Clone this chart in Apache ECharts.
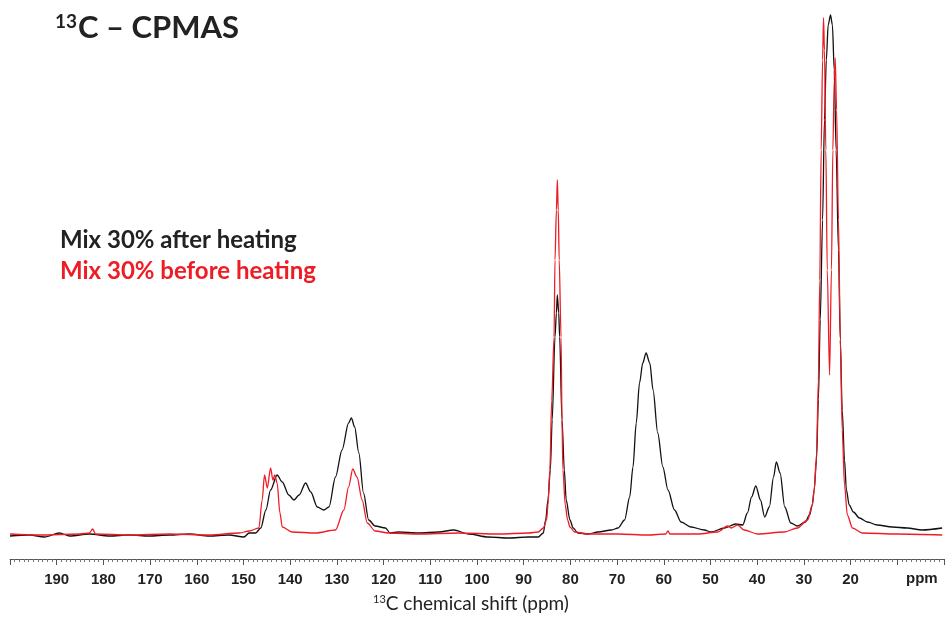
<!DOCTYPE html>
<html>
<head>
<meta charset="utf-8">
<script src="https://cdn.jsdelivr.net/npm/echarts@6/dist/echarts.min.js"></script>
<style>
  html, body { margin: 0; padding: 0; background: #fff; }
  #chart { width: 947px; height: 617px; }
</style>
</head>
<body>
<div id="chart"></div>
<script>
// chemical shift (ppm) and intensity (a.u.)
const afterPpm = [200.0, 195.8, 192.6, 189.4, 187.2, 183.0, 178.7, 174.4, 170.2, 165.9, 161.6, 157.3, 153.1, 149.9,
  148.8, 147.4, 146.3, 145.2, 144.2, 142.8, 141.7, 140.3, 139.2, 138.1, 136.7, 135.6, 134.2, 132.8, 131.7, 130.3,
  128.9, 127.5, 126.9, 126.2, 125.3, 124.3, 123.2, 121.8, 119.6, 118.6, 116.8, 112.5, 108.2, 105.0, 101.8, 97.6,
  93.3, 89.0, 86.9, 85.8, 85.3, 84.8, 84.3, 83.9, 83.3, 83.0, 82.8, 82.5, 82.3, 81.8, 81.3, 80.9, 80.1, 79.4, 78.4,
  76.2, 74.1, 71.2, 69.8, 68.4, 67.3, 66.6, 65.9, 65.2, 64.5, 63.8, 63.0, 62.3, 61.3, 60.2, 59.1, 57.7, 56.3, 54.2,
  51.3, 49.9, 47.0, 44.6, 43.1, 42.1, 41.2, 40.3, 39.3, 38.4, 37.4, 36.5, 35.9, 35.1, 34.1, 32.8, 31.4, 29.7, 28.8,
  28.2, 27.8, 27.3, 26.9, 26.5, 26.0, 25.6, 25.2, 24.8, 24.3, 23.9, 23.5, 23.1, 22.6, 22.2, 21.8, 21.3, 20.9, 20.3,
  19.4, 18.1, 16.4, 14.3, 11.1, 7.9, 4.7, 0.4];
const afterInt = [-1, 0, -2, 2, -1, 1, -1, 0, -1, 0, 1, -1, 0, -2,
  2, 2, 7, 25, 45, 60, 53, 40, 35, 40, 52, 43, 28, 25, 28, 58,
  85, 112, 117, 108, 82, 42, 15, 9, 7, 2, 3, 2, 3, 5, 1, -2,
  -3, -2, -2, 2, 15, 35, 65, 115, 198, 222, 240, 222, 198, 115, 65, 35, 15, 7, 2,
  1, 3, 5, 7, 15, 38, 68, 112, 152, 172, 182, 172, 145, 102, 68, 45, 25, 13, 8,
  5, 3, 7, 11, 10, 22, 38, 49, 35, 18, 28, 58, 73, 62, 28, 12, 9, 13, 20,
  30, 45, 75, 135, 215, 315, 415, 475, 510, 520, 510, 465, 385, 285, 195, 125, 75, 45, 30,
  23, 17, 13, 10, 8, 7, 5, 7];

const beforePpm = [200.0, 193.6, 185.1, 183.0, 182.3, 181.7, 174.4, 165.9, 157.3, 150.9, 148.8, 146.7, 146.0, 145.5,
  144.9, 144.2, 143.7, 143.3, 142.8, 142.2, 141.7, 139.6, 134.6, 130.3, 128.5, 127.5, 126.6, 125.7, 124.6, 123.5,
  121.8, 118.9, 112.5, 104.0, 95.4, 89.0, 86.9, 85.8, 85.1, 84.8, 84.4, 84.0, 83.5, 83.3, 83.0, 82.8, 82.6, 82.4,
  82.0, 81.8, 81.6, 81.1, 80.6, 80.1, 79.1, 76.2, 69.8, 63.4, 59.6, 59.1, 58.7, 52.7, 48.5, 46.3, 45.6, 44.2, 42.8,
  39.9, 34.2, 31.4, 29.2, 28.2, 27.8, 27.3, 26.9, 26.6, 26.3, 26.0, 25.8, 25.6, 25.3, 25.0, 24.5, 24.1, 23.8, 23.5,
  23.3, 23.0, 22.6, 22.2, 21.8, 21.3, 20.7, 19.6, 17.5, 10.0, 0.4];
const beforeInt = [1, 0, 1, 2, 6, 1, 0, 1, 0, 2, 4, 7, 35, 60,
  47, 67, 55, 60, 52, 22, 8, 3, 2, 5, 25, 48, 66, 58, 35, 12,
  4, 2, 1, 2, 1, 2, 3, 7, 15, 30, 65, 135, 198, 275, 325, 355, 325, 275,
  198, 115, 65, 30, 15, 8, 3, 1, 1, 0, 1, 4, 1, 1, 3, 9, 7, 10, 5,
  1, 3, 7, 15, 30, 45, 80, 155, 255, 385, 475, 517, 485, 385, 265, 160, 265, 385, 455,
  477, 425, 315, 195, 105, 50, 20, 7, 2, 1, 0];

const tickLabels = [190, 180, 170, 160, 150, 140, 130, 120, 110, 100, 90, 80, 70, 60, 50, 40, 30, 20];

const afterData = afterPpm.map((p, i) => [p, afterInt[i]]);
const beforeData = beforePpm.map((p, i) => [p, beforeInt[i]]);

const chart = echarts.init(document.getElementById('chart'), null, { renderer: 'canvas' });

const option = {
  animation: false,
  backgroundColor: '#fff',
  grid: { left: 10, right: 0, top: 0, bottom: 58 },
  xAxis: {
    type: 'value',
    min: 0,
    max: 200,
    interval: 10,
    inverse: true,
    axisLine: { show: true, onZero: false, lineStyle: { color: '#555', width: 1 } },
    axisTick: { show: true, length: 6, lineStyle: { color: '#555' } },
    minorTick: { show: true, splitNumber: 10, length: 3, lineStyle: { color: '#777' } },
    splitLine: { show: false },
    axisLabel: {
      margin: 13,
      fontFamily: 'Liberation Sans, Arial, sans-serif',
      fontWeight: 'bold',
      fontSize: 15,
      color: '#222',
      formatter: v => (tickLabels.indexOf(v) >= 0 ? String(v) : '')
    }
  },
  yAxis: {
    type: 'value',
    min: -24,
    max: 535,
    show: false
  },
  series: [
    {
      name: 'Mix 30% after heating',
      type: 'line',
      data: afterData,
      showSymbol: false,
      smooth: 0.3,
      smoothMonotone: 'x',
      lineStyle: { color: '#111', width: 1.3 }
    },
    {
      name: 'Mix 30% before heating',
      type: 'line',
      data: beforeData,
      showSymbol: false,
      smooth: 0.3,
      smoothMonotone: 'x',
      lineStyle: { color: '#ee1c24', width: 1.3 }
    }
  ],
  graphic: [
    {
      type: 'text',
      left: 55,
      top: 12,
      style: {
        text: '{sup|13}{big|C – CPMAS}',
        rich: {
          sup: { fontFamily: 'Lato, sans-serif', fontWeight: 'bold', fontSize: 19, fill: '#222', verticalAlign: 'top', padding: [0, 1, 13, 0] },
          big: { fontFamily: 'Lato, sans-serif', fontWeight: 'bold', fontSize: 31, fill: '#222' }
        }
      }
    },
    {
      type: 'text',
      left: 60,
      top: 228,
      style: { text: 'Mix 30% after heating', font: 'bold 24px Lato, sans-serif', fill: '#222' }
    },
    {
      type: 'text',
      left: 60,
      top: 259,
      style: { text: 'Mix 30% before heating', font: 'bold 24px Lato, sans-serif', fill: '#ee1c24' }
    },
    {
      type: 'text',
      left: 906,
      top: 571,
      style: { text: 'ppm', font: 'bold 15px Liberation Sans, Arial, sans-serif', fill: '#222' }
    },
    {
      type: 'text',
      left: 373,
      top: 594,
      style: {
        text: '{sup|13}{t|C chemical shift (ppm)}',
        rich: {
          sup: { fontFamily: 'Lato, sans-serif', fontSize: 11, fill: '#222', verticalAlign: 'top', padding: [0, 0, 8, 0] },
          t: { fontFamily: 'Lato, sans-serif', fontSize: 19, fill: '#222' }
        }
      }
    }
  ]
};

chart.setOption(option);
</script>
</body>
</html>
